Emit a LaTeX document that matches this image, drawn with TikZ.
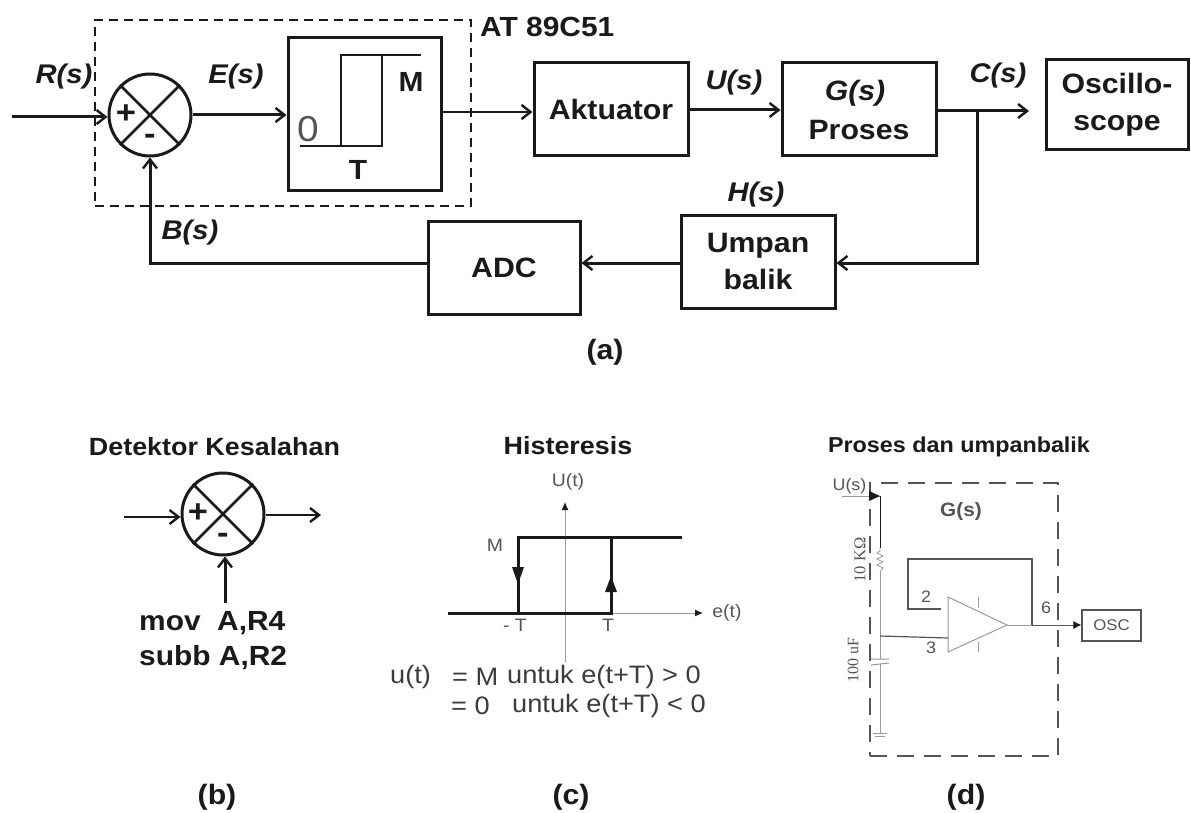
\documentclass[tikz,border=0pt]{standalone}
\usepackage{fontspec}
\setmainfont[FakeStretch=1.08]{Liberation Sans}
\newfontfamily\serifx{Liberation Serif}
\usetikzlibrary{arrows.meta}
\definecolor{ink}{HTML}{1A1A1A}
\definecolor{faint}{HTML}{9A9A9A}
\definecolor{mid}{HTML}{555555}
\tikzset{
 x=1pt,y=-1pt,
 blockbox/.style={draw=ink,line width=3pt,inner sep=0pt,align=center,font=\fontsize{28}{37}\selectfont\bfseries,text=ink},
 sumcirc/.style={draw=ink,line width=3pt,circle,minimum size=82pt,inner sep=0pt},
 conn/.style={draw=ink,line width=3pt,-{Straight Barb[length=9pt,width=14pt,line width=2.4pt]}},
 plain/.style={draw=ink,line width=3pt},
 lab/.style={inner sep=0pt,text=ink,font=\fontsize{27}{30}\selectfont\bfseries\itshape},
 blab/.style={inner sep=0pt,text=ink,font=\fontsize{27.7}{30}\selectfont\bfseries},
 caplab/.style={inner sep=0pt,text=ink,font=\fontsize{28}{30}\selectfont\bfseries},
 signmark/.style={inner sep=0pt,text=ink,font=\fontsize{32}{34}\selectfont\bfseries},
 tlab/.style={inner sep=0pt,text=ink,font=\fontsize{24.9}{26}\selectfont\bfseries},
 clab/.style={inner sep=0pt,text=mid,font=\fontsize{18}{20}\selectfont},
 flab/.style={inner sep=0pt,anchor=west,text=ink!85,font=\fontsize{25.2}{27}\selectfont},
 dlab/.style={inner sep=0pt,text=mid,font=\fontsize{16.6}{18}\selectfont},
 thin gray/.style={draw=faint,line width=1pt},
}
\begin{document}
\begin{tikzpicture}
\useasboundingbox[fill=white] (0,0) rectangle (1191,813);
% ---- (a)
\node[draw=ink,line width=1.6pt,dash pattern=on 9pt off 6pt,minimum width=376pt,minimum height=186pt,inner sep=0pt] (mcu) at (283,113) {};
\node[blab,anchor=west] (mculab) at (480,27) {AT 89C51};
\node[sumcirc] (s1) at (150,115) {};
\draw[plain,line width=2.5pt] (s1.45) -- (s1.225) (s1.135) -- (s1.315);
\node[signmark] (s1p) at (126,114) {+};
\node[signmark] (s1m) at (150,139) {-};
\node[blockbox,minimum width=153pt,minimum height=153pt] (hys) at (364.5,114.5) {};
\coordinate (h1) at (300,146);
\coordinate (h2) at (341,146);
\coordinate (h3) at (382,146);
\coordinate (h4) at (341,55);
\coordinate (h5) at (382,55);
\coordinate (h6) at (421,55);
\draw[draw=ink,line width=2.6pt] (h1) -- (h3) -- (h5) -- (h6) (h2) -- (h4) -- (h5);
\node[inner sep=0pt,text=mid,font=\fontsize{36}{38}\selectfont] (h0) at (308,129) {0};
\node[blab] (hM) at (411,82) {M};
\node[blab] (hT) at (358,170) {T};
\node[blockbox,minimum width=154pt,minimum height=93pt] (akt) at (611,109.5) {\raisebox{-1pt}{Aktuator}};
\node[blockbox,minimum width=154pt,minimum height=93pt] (gs) at (859,109.5) {\hspace{-8pt}\textit{G(s)}\\[2pt]Proses};
\node[blockbox,minimum width=142pt,minimum height=90pt] (osc) at (1117,105) {Oscillo-\\scope};
\node[blockbox,minimum width=152pt,minimum height=92pt] (adc) at (504,268) {ADC};
\node[blockbox,minimum width=154pt,minimum height=92pt] (ump) at (758,262) {Umpan\\balik};
\coordinate (rin) at (12,117);
\coordinate (branch) at (977,111);
\coordinate (oscin) at (1029,111);
\coordinate (bend) at (977,263);
\coordinate (corner) at (150,263);
\draw[conn] (rin) -- (s1.west |- rin);
\draw[conn] (s1.east) -- (hys.west |- s1.east);
\draw[conn,line width=2.2pt] (hys.east |- 0,112) -- (akt.west |- 0,112);
\draw[conn] (akt.east |- 0,110) -- (gs.west |- 0,110);
\draw[conn] (gs.east |- branch) -- (branch) -- (oscin);
\draw[conn] (branch) -- (bend) -- (ump.east |- bend);
\draw[conn] (ump.west |- bend) -- (adc.east |- bend);
\draw[conn] (adc.west |- corner) -- (corner) -- (s1.south);
\node[lab] (lr) at (64,77) {R(s)};
\node[lab] (le) at (236,77) {E(s)};
\node[lab] (lb) at (190,233) {B(s)};
\node[lab] (lu) at (734,83) {U(s)};
\node[lab] (lc) at (998,76) {C(s)};
\node[lab] (lh) at (756,195) {H(s)};
\node[caplab] (capa) at (605,352) {(a)};
% ---- (b)
\node[tlab] (tb) at (214.5,447) {Detektor Kesalahan};
\node[sumcirc] (s2) at (223,514) {};
\draw[plain,line width=2.5pt] (s2.45) -- (s2.225) (s2.135) -- (s2.315);
\node[signmark] (s2p) at (198,513) {+};
\node[signmark] (s2m) at (223,538) {-};
\coordinate (bin) at (124,517);
\coordinate (bout) at (321,515);
\coordinate (bup) at (225,603);
\draw[conn,line width=2.4pt] (bin) -- (s2.west |- bin);
\draw[conn,line width=2.4pt] (s2.east |- bout) -- (bout);
\draw[conn] (bup) -- (bup |- s2.south);
\node[blab,anchor=west] (mov) at (139,623) {mov};
\node[blab,anchor=west] (movb) at (217,623) {A,R4};
\node[blab,anchor=west] (sub) at (139,658) {subb A,R2};
\node[caplab] (capb) at (217,797) {(b)};
% ---- (c)
\node[tlab] (tc) at (568,446) {Histeresis};
\coordinate (axb) at (565,662);
\coordinate (axt) at (565,502);
\coordinate (axl) at (611,613);
\coordinate (axr) at (703,613);
\draw[draw=faint,line width=1pt,-{Latex[length=8pt,width=7pt,color=ink]}] (axb) -- (axt);
\draw[thin gray,-{Latex[length=8pt,width=7pt,color=ink]}] (axl) -- (axr);
\coordinate (c1) at (448,613);
\coordinate (c2) at (611,613);
\coordinate (c3) at (611,537);
\coordinate (c4) at (518,613);
\coordinate (c5) at (518,537);
\coordinate (c6) at (682,537);
\draw[plain,line join=miter] (c1) -- (c2) -- (c3);
\draw[plain,line join=miter] (c4) -- (c5) -- (c6);
\fill[ink] (512,567) -- (524,567) -- (518,584) -- cycle;
\fill[ink] (605,592) -- (617,592) -- (611,576) -- cycle;
\node[clab] (cu) at (568,482) {U(t)};
\node[clab] (ce) at (727,613) {e(t)};
\node[clab] (cm) at (495,545) {M};
\node[clab] (ct1) at (515,625) {- T};
\node[clab] (ct2) at (608,625) {T};
\node[flab] (f1a) at (390,677) {u(t)};
\node[flab] (f1b) at (452,677) {= M};
\node[flab] (f1c) at (507,677) {untuk e(t+T) > 0};
\node[flab] (f2a) at (451,706) {= 0};
\node[flab] (f2b) at (512,706) {untuk e(t+T) < 0};
\node[caplab] (capc) at (571,797) {(c)};
% ---- (d)
\node[inner sep=0pt,text=ink,font=\fontsize{21.6}{23}\selectfont\bfseries] (td) at (959,447) {Proses dan umpanbalik};
\node[draw=mid,line width=1.6pt,dash pattern=on 17pt off 10pt,minimum width=188pt,minimum height=273pt,inner sep=0pt] (dbox) at (964,619.5) {};
\node[inner sep=0pt,text=mid,font=\fontsize{19.3}{21}\selectfont\bfseries] (dg) at (961,512) {G(s)};
\node[dlab] (du) at (849.5,486) {U(s)};
\coordinate (d1) at (842,496);
\coordinate (d2) at (880,496);
\coordinate (d3) at (880,548);
\coordinate (r1) at (880,572);
\coordinate (j) at (880,636);
\coordinate (gnd) at (880,733);
\coordinate (cap1) at (880,659);
\coordinate (cap2) at (880,664);
\coordinate (a1) at (948,638);
\draw[draw=faint,line width=.8pt] (d1) -- (d2);
\draw[draw=ink,line width=1pt] (d2) -- (d3);
\fill[ink] (869,491) -- (880,496) -- (869,501) -- cycle;
\draw[draw=faint,line width=.8pt] (d3) -- ++(0,3) -- ++(-3,2) -- ++(6,3) -- ++(-6,3) -- ++(6,3) -- ++(-6,3) -- ++(6,3) -- (r1);
\draw[thin gray] (r1) -- (cap1) (cap2) -- (gnd);
\draw[thin gray] (871,659) -- (889,659) (871,665) -- (889,663);
\draw[thin gray] (873,733) -- (887,733) (875,736) -- (885,736);
\draw[draw=mid,line width=1.2pt] (j) -- (a1);
\coordinate (o1) at (948,597);
\coordinate (o2) at (948,652);
\coordinate (o3) at (1007,625);
\coordinate (f0) at (941,609);
\coordinate (f3) at (908,609);
\coordinate (f4) at (908,559);
\coordinate (f5) at (1032,559);
\coordinate (f6) at (1032,625);
\draw[draw=faint,line width=1pt] (o1) -- (o2) -- (o3) -- cycle;
\draw[draw=faint,line width=.8pt] (978,597) -- (978,608) (978,652) -- (978,642);
\draw[draw=mid,line width=1.4pt] (f0) -- (f3) -- (f4) -- (f5) -- (f6);
\draw[draw=faint,line width=1pt] (o3) -- (f6);
\node[draw=mid,line width=1.2pt,minimum width=59pt,minimum height=31pt,inner sep=0pt,text=mid,font=\fontsize{15.5}{17}\selectfont] (oscb) at (1111.5,625.5) {OSC};
\draw[draw=mid,line width=.9pt,-{Latex[length=8pt,width=8pt,color=ink]}] (f6) -- (oscb.west |- f6);
\node[dlab] (p2) at (926,597) {2};
\node[dlab] (p3) at (931,648) {3};
\node[dlab] (p6) at (1046,608) {6};
\node[inner sep=0pt,rotate=90,text=mid,font=\fontsize{16.5}{17}\selectfont\serifx] (d10k) at (860,560) {10 KΩ};
\node[inner sep=0pt,rotate=90,text=mid,font=\fontsize{16}{17}\selectfont\serifx] (d100) at (853,660) {100 uF};
\node[caplab] (capd) at (966,797) {(d)};
\end{tikzpicture}
\end{document}
